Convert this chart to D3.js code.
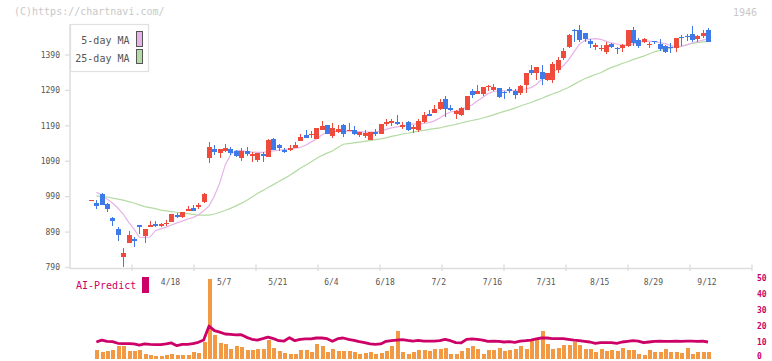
<!DOCTYPE html>
<html><head><meta charset="utf-8">
<script src="https://cdn.jsdelivr.net/npm/d3@7"></script>
<style>body{margin:0;background:#fff}svg{display:block}text{font-family:"DejaVu Sans Mono",monospace}</style>
</head><body><svg id="c" width="772" height="361"></svg>
<script>
const open=[980,973,997,969,930,900,820,860,870,911,879,905,913,907,913,918,939,933,950,958,962,975,1099,1124,1112,1120,1125,1118,1100,1119,1106,1093,1111,1102,1153,1136,1121,1123,1128,1147,1164,1164,1153,1177,1192,1162,1172,1192,1177,1179,1164,1160,1151,1172,1168,1196,1199,1201,1188,1201,1180,1178,1201,1223,1227,1238,1265,1240,1223,1221,1235,1289,1280,1280,1300,1291,1297,1285,1295,1289,1282,1304,1347,1340,1342,1319,1319,1348,1382,1412,1461,1461,1452,1429,1414,1407,1399,1420,1411,1411,1416,1461,1433,1428,1418,1429,1420,1416,1412,1409,1441,1444,1450,1435,1445,1461];
const close=[980,964,967,954,922,883,832,881,864,904,900,909,907,913,917,941,933,947,954,950,967,998,1129,1116,1124,1127,1112,1105,1119,1111,1110,1113,1104,1149,1123,1128,1117,1128,1136,1158,1157,1168,1185,1189,1168,1183,1181,1168,1179,1168,1173,1170,1172,1168,1196,1202,1204,1195,1193,1178,1188,1204,1220,1218,1238,1257,1238,1235,1233,1240,1274,1278,1289,1300,1303,1300,1272,1282,1287,1278,1302,1338,1340,1357,1323,1338,1366,1376,1401,1446,1458,1433,1435,1422,1418,1411,1418,1413,1407,1418,1461,1424,1416,1435,1422,1426,1407,1399,1409,1439,1437,1441,1431,1443,1452,1428];
const high=[980,981,1001,971,933,904,846,892,877,911,900,922,922,915,924,941,943,947,964,966,971,1001,1144,1137,1124,1139,1129,1122,1128,1130,1117,1113,1115,1153,1157,1138,1128,1136,1144,1166,1179,1175,1185,1204,1192,1198,1192,1194,1198,1190,1173,1177,1172,1181,1196,1209,1210,1221,1201,1203,1191,1208,1229,1235,1248,1265,1274,1248,1235,1242,1274,1295,1306,1301,1306,1308,1297,1289,1300,1295,1306,1338,1363,1357,1363,1339,1370,1385,1409,1450,1463,1476,1452,1435,1424,1418,1426,1424,1414,1420,1461,1470,1437,1437,1428,1430,1435,1418,1424,1439,1446,1448,1473,1446,1460,1465];
const low=[980,954,966,947,907,866,792,860,849,885,860,905,905,905,907,918,931,930,949,950,956,971,1086,1108,1099,1116,1107,1101,1091,1106,1089,1089,1089,1102,1122,1119,1113,1119,1127,1147,1156,1157,1153,1177,1167,1157,1171,1158,1177,1164,1158,1155,1151,1162,1168,1189,1190,1193,1180,1176,1171,1173,1199,1217,1225,1236,1214,1231,1210,1219,1234,1268,1280,1274,1289,1289,1268,1267,1283,1265,1278,1283,1334,1320,1304,1316,1312,1338,1375,1409,1428,1428,1428,1411,1403,1401,1392,1409,1392,1399,1414,1416,1409,1424,1411,1420,1401,1396,1396,1399,1416,1429,1428,1428,1437,1428];
const ma5=[null,1002,995,983,972,958,941,918,899,876,875,876,894,899,904,910,916,921,927,931,938,950,964,992,1029,1079,1108,1120,1120,1117,1116,1115,1115,1117,1119,1121,1123,1125,1127,1129,1135,1144,1153,1164,1171,1173,1175,1175,1175,1174,1174,1172,1172,1173,1175,1180,1184,1187,1189,1192,1195,1196,1197,1199,1204,1212,1222,1229,1232,1237,1242,1249,1260,1270,1281,1287,1289,1289,1289,1290,1292,1294,1298,1307,1321,1331,1342,1350,1359,1376,1398,1420,1431,1435,1436,1434,1429,1424,1421,1418,1418,1421,1425,1429,1429,1428,1425,1422,1417,1412,1414,1418,1424,1428,1432,1435];
const ma25=[null,992,990,989,986,983,980,976,972,967,962,959,956,952,950,948,946,943,942,940,938,938,938,941,946,951,957,964,971,979,989,999,1007,1016,1024,1033,1041,1050,1060,1070,1079,1088,1098,1106,1113,1119,1129,1138,1140,1142,1144,1146,1148,1151,1153,1156,1160,1163,1167,1169,1172,1175,1177,1180,1182,1184,1188,1191,1194,1198,1202,1205,1208,1212,1216,1221,1226,1231,1235,1240,1246,1251,1256,1262,1267,1274,1280,1285,1292,1298,1307,1315,1323,1329,1335,1340,1348,1355,1360,1366,1371,1377,1382,1387,1393,1399,1403,1406,1409,1412,1415,1419,1423,1425,1427,1428];
const volume=[null,87,67,77,93,127,127,80,80,93,53,43,27,27,43,53,37,37,37,67,57,170,797,237,157,147,103,127,120,87,87,100,100,187,107,80,57,47,47,87,87,67,153,127,67,103,77,77,77,67,47,57,67,47,57,77,127,277,67,53,67,87,87,77,97,97,107,53,53,77,113,127,97,53,87,87,113,77,87,103,127,103,187,213,277,153,103,113,137,137,167,137,97,97,70,97,77,87,77,113,93,93,53,43,87,67,67,97,67,67,57,107,47,67,67,67];
const aiPredict=[null,10,11.2,10.4,10.2,9.2,9,9,8.8,8.1,8.8,8.5,8.3,8.3,8.8,9.4,7.7,8.5,8.5,9,9.8,11.2,20,17.1,16.2,15,14.8,14.4,14.6,12.9,11.7,11.2,12.1,13.1,12.1,10.8,10.6,12.7,10.8,11.7,11.9,11.9,12.5,12.5,12.1,10.4,12.1,12.5,11.7,11,10.2,9.6,8.8,8.5,8.8,10.4,10.8,11.2,11.5,11,10.6,11,10.6,10.6,10.6,10.8,11.7,10.8,9.6,9.4,11.7,11.9,11.7,11.2,10.4,10.6,10.4,10,10.2,9.8,10.6,10.8,11.2,11.9,12.5,12.5,12.1,12.1,12.1,11.7,11.2,10.8,10.4,10,9.2,9.6,9.6,9.6,9.2,10,10.4,10.8,10.6,9.6,10,10.4,10.6,10.4,10.4,10.6,10.4,10.6,10.6,10.4,10.6,10];
const priceTicks=[790,890,990,1090,1190,1290,1390];
const dateLabels=["4/18","5/7","5/21","6/4","6/18","7/2","7/16","7/31","8/15","8/29","9/12"];
const dateLabelIdx=[15,25,35,45,55,65,75,85,95,105,115];
const aiTicks=[0,10,20,30,40,50];

const svg=d3.select("#c");
const UP="#EF4B3C", DN="#3F7BE8", AXIS="#DDDDDD", TXT="#555", AI="#CC0066";
const x=d3.scaleLinear().domain([0,open.length-1]).range([91,708]);
const y=d3.scaleLinear().domain([790,1390]).range([267.5,55]);
const xt=d3.scaleLinear().domain([0,11]).range([70,752]);
const yv=d3.scaleLinear().domain([0,800]).range([359,279]);
const ya=d3.scaleLinear().domain([0,50]).range([358,278]);

// watermark
svg.append("text").attr("x",14).attr("y",15).attr("font-size",10).attr("fill","#c8c8c8").text("(C)https://chartnavi.com/");
svg.append("text").attr("x",757).attr("y",16).attr("text-anchor","end").attr("font-size",10).attr("fill","#c8c8c8").text("1946");

// axes
svg.append("line").attr("x1",70).attr("x2",70).attr("y1",24).attr("y2",268.5).attr("stroke",AXIS).attr("stroke-width",1.5);
svg.append("line").attr("x1",70).attr("x2",752).attr("y1",268.5).attr("y2",268.5).attr("stroke",AXIS).attr("stroke-width",1.5);
svg.selectAll(".xt").data(d3.range(1,12)).enter().append("line")
  .attr("x1",d=>xt(d)).attr("x2",d=>xt(d)).attr("y1",264.5).attr("y2",271).attr("stroke",AXIS).attr("stroke-width",1.3);
svg.selectAll(".yt").data(priceTicks).enter().append("line")
  .attr("x1",65).attr("x2",70).attr("y1",d=>y(d)).attr("y2",d=>y(d)).attr("stroke",AXIS).attr("stroke-width",1.3);
svg.selectAll(".yl").data(priceTicks).enter().append("text")
  .attr("x",60).attr("y",d=>y(d)).attr("dy","0.35em").attr("text-anchor","end").attr("font-size",8).attr("fill",TXT).text(d=>d);
svg.selectAll(".dl").data(dateLabels).enter().append("text")
  .attr("x",(d,i)=>x(dateLabelIdx[i])-1).attr("y",285).attr("text-anchor","middle").attr("font-size",8).attr("fill",TXT).text(d=>d);

// moving averages
const idx=d3.range(open.length);
const maLine=arr=>d3.line().defined(i=>arr[i]!=null).x(i=>x(i)).y(i=>y(arr[i]));
svg.append("path").attr("d",maLine(ma25)(idx)).attr("fill","none").attr("stroke","#B4DBA4").attr("stroke-width",1.2);
svg.append("path").attr("d",maLine(ma5)(idx)).attr("fill","none").attr("stroke","#E6B3E8").attr("stroke-width",1.2);

// candles
const g=svg.append("g").attr("shape-rendering","crispEdges");
idx.forEach(i=>{
  const up=close[i]>=open[i], col=up?UP:DN, cx=Math.round(x(i));
  g.append("line").attr("x1",cx+0.5).attr("x2",cx+0.5).attr("y1",y(high[i])).attr("y2",y(low[i])).attr("stroke",col).attr("stroke-width",1);
  const t=y(Math.max(open[i],close[i])), b=y(Math.min(open[i],close[i]));
  g.append("rect").attr("x",cx-2).attr("width",5).attr("y",t).attr("height",Math.max(1.2,b-t)).attr("fill",col);
});

// legend
svg.append("rect").attr("x",70.5).attr("y",24.5).attr("width",78).attr("height",47).attr("fill","#fff").attr("stroke","#E0E0E0").attr("stroke-width",1.2);
svg.append("text").attr("x",129.5).attr("y",44).attr("text-anchor","end").attr("font-size",10).attr("fill",TXT).text("5-day MA");
svg.append("text").attr("x",129.5).attr("y",61.5).attr("text-anchor","end").attr("font-size",10).attr("fill",TXT).text("25-day MA");
svg.append("rect").attr("x",136.5).attr("y",31.5).attr("width",6).attr("height",15).attr("fill","#E6B3E8").attr("stroke","#555");
svg.append("rect").attr("x",136.5).attr("y",49.5).attr("width",6).attr("height",14).attr("fill","#B4DBA4").attr("stroke","#555");

// volume bars
const gv=svg.append("g").attr("shape-rendering","crispEdges");
idx.filter(i=>volume[i]!=null).forEach(i=>{
  gv.append("rect").attr("x",Math.round(x(i))-1.5).attr("width",4).attr("y",yv(volume[i])).attr("height",yv(0)-yv(volume[i])).attr("fill","#F29A43");
});
// AI predict line
svg.append("path").attr("d",d3.line().defined(i=>aiPredict[i]!=null).x(i=>x(i)).y(i=>ya(aiPredict[i]))(idx))
  .attr("fill","none").attr("stroke",AI).attr("stroke-width",2.8).attr("stroke-linejoin","round");
svg.append("text").attr("x",76).attr("y",289).attr("font-size",10).attr("fill",AI).text("AI-Predict");
svg.append("rect").attr("x",142).attr("y",277).attr("width",7).attr("height",16).attr("fill",AI);
svg.selectAll(".al").data(aiTicks).enter().append("text")
  .attr("x",757).attr("y",d=>Math.min(ya(d)+2.5,359)).attr("font-size",8).attr("font-weight","bold").attr("fill",AI).text(d=>d);
</script></body></html>
